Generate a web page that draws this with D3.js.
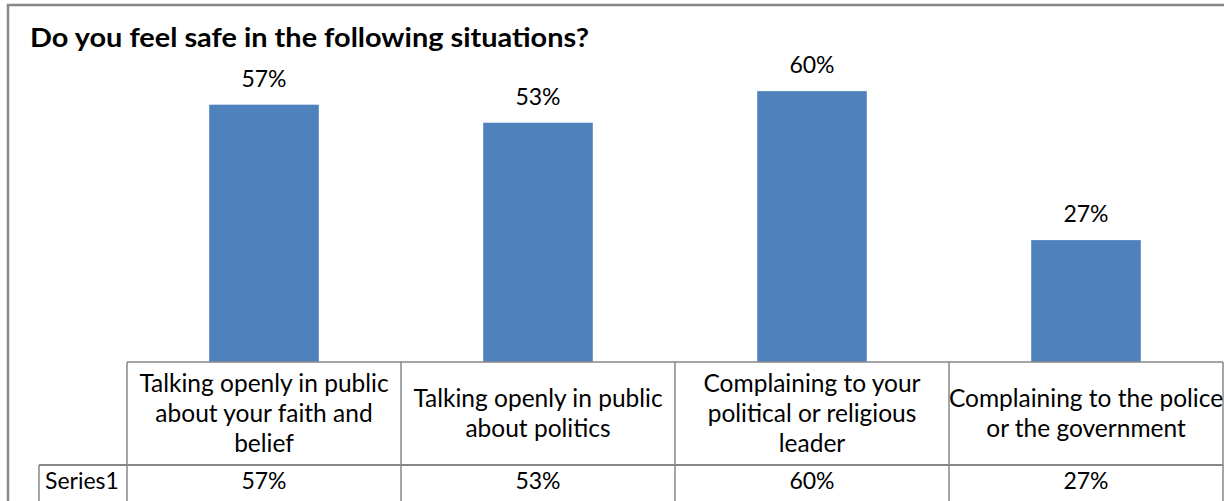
<!DOCTYPE html>
<html>
<head>
<meta charset="utf-8">
<script src="https://cdn.jsdelivr.net/npm/d3@7"></script>
<style>
  html, body { margin: 0; padding: 0; background: #fff; }
  svg { display: block; }
  text { font-family: Lato, "Liberation Sans", sans-serif; fill: #000; }
</style>
</head>
<body>
<svg id="chart" width="1224" height="501"></svg>
<script>
// Survey results: share of respondents who feel safe in each situation
const title = "Do you feel safe in the following situations?";
const categories = [
  "Talking openly in public about your faith and belief",
  "Talking openly in public about politics",
  "Complaining to your political or religious leader",
  "Complaining to the police or the government"
];
// wrapped lines for the data-table header cells
const categoryLines = [
  ["Talking openly in public", "about your faith and", "belief"],
  ["Talking openly in public", "about politics"],
  ["Complaining to your", "political or religious", "leader"],
  ["Complaining to the police", "or the government"]
];
const seriesName = "Series1";
const values = [0.57, 0.53, 0.60, 0.27];

const svg = d3.select("#chart");
const fmt = d3.format(".0%");

const plot = { left: 127, right: 1223, top: 46, bottom: 362 };
const headerBottom = 465;
const tableBottom = 540;
const grid = "#878787";

const x = d3.scaleBand()
  .domain(categories)
  .range([plot.left, plot.right])
  .paddingInner(0.6)
  .paddingOuter(0.3);

const y = d3.scaleLinear()
  .domain([0, 0.7])
  .range([plot.bottom, plot.top]);

// outer chart frame
svg.append("path")
  .attr("d", "M8,510 V5 H1240")
  .attr("fill", "none")
  .attr("stroke", grid)
  .attr("stroke-width", 2.5);

// title
svg.append("text")
  .attr("x", 30)
  .attr("y", 47)
  .attr("font-size", 26)
  .attr("font-weight", "bold")
  .attr("textLength", 559)
  .attr("lengthAdjust", "spacingAndGlyphs")
  .text(title);

// bars
svg.append("g")
  .selectAll("rect")
  .data(categories)
  .join("rect")
  .attr("x", d => x(d))
  .attr("width", x.bandwidth())
  .attr("y", (d, i) => y(values[i]))
  .attr("height", (d, i) => y(0) - y(values[i]))
  .attr("fill", "#4F81BD");

// value labels above bars
svg.append("g")
  .selectAll("text")
  .data(categories)
  .join("text")
  .attr("x", d => x(d) + x.bandwidth() / 2)
  .attr("y", (d, i) => y(values[i]) - 18)
  .attr("text-anchor", "middle")
  .attr("font-size", 23)
  .text((d, i) => fmt(values[i]));

// data table grid
const step = x.step();
const colEdges = d3.range(categories.length + 1).map(i => plot.left + i * step);
const table = svg.append("g")
  .attr("stroke", grid)
  .attr("stroke-width", 1.5)
  .attr("fill", "none");

table.append("line")
  .attr("x1", plot.left).attr("x2", colEdges[colEdges.length - 1])
  .attr("y1", plot.bottom).attr("y2", plot.bottom);
table.append("line")
  .attr("x1", 39).attr("x2", colEdges[colEdges.length - 1])
  .attr("y1", headerBottom).attr("y2", headerBottom)
  .attr("stroke-width", 2);
table.selectAll("line.col")
  .data(colEdges)
  .join("line")
  .attr("class", "col")
  .attr("x1", d => d).attr("x2", d => d)
  .attr("y1", plot.bottom).attr("y2", tableBottom);
table.append("line")
  .attr("x1", 39).attr("x2", 39)
  .attr("y1", headerBottom).attr("y2", tableBottom);

// header cells: category names
const lineH = 30;
const headerMid = (plot.bottom + headerBottom) / 2;
const header = svg.append("g")
  .selectAll("text")
  .data(categories)
  .join("text")
  .attr("text-anchor", "middle")
  .attr("font-size", 24.5);
header.each(function(d, i) {
  const lines = categoryLines[i];
  const cx = x(d) + x.bandwidth() / 2;
  const first = headerMid + 8 - (lines.length - 1) * lineH / 2;
  d3.select(this).selectAll("tspan")
    .data(lines)
    .join("tspan")
    .attr("x", cx)
    .attr("y", (l, j) => first + j * lineH)
    .text(l => l);
});

// series row
svg.append("text")
  .attr("x", 45)
  .attr("y", 489)
  .attr("font-size", 23)
  .text(seriesName);

svg.append("g")
  .selectAll("text")
  .data(categories)
  .join("text")
  .attr("x", d => x(d) + x.bandwidth() / 2)
  .attr("y", 489)
  .attr("text-anchor", "middle")
  .attr("font-size", 23)
  .text((d, i) => fmt(values[i]));
</script>
</body>
</html>
